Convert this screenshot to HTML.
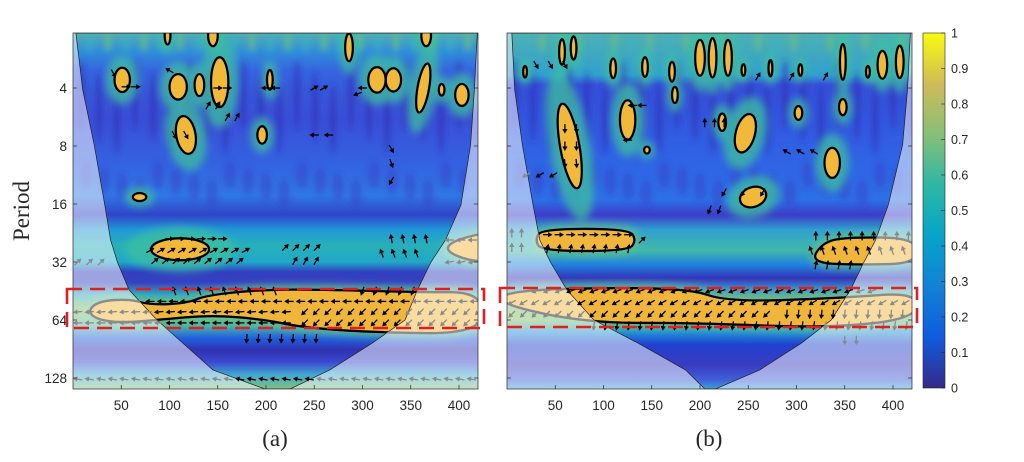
<!DOCTYPE html>
<html><head><meta charset="utf-8"><style>
html,body{margin:0;padding:0;background:#fff;width:1024px;height:462px;overflow:hidden}
svg text{font-family:"Liberation Sans",sans-serif;fill:#262626}
.serif{font-family:"Liberation Serif",serif}
</style></head><body>
<svg id="chart" width="1024" height="462" viewBox="0 0 1024 462" xmlns="http://www.w3.org/2000/svg">
<defs>
<linearGradient id="bgA" gradientUnits="userSpaceOnUse" x1="0" y1="33" x2="0" y2="389">
<stop offset="0" stop-color="#50b0b0"/><stop offset="0.05" stop-color="#3090d8"/><stop offset="0.104" stop-color="#3565e0"/>
<stop offset="0.174" stop-color="#3858d8"/><stop offset="0.244" stop-color="#3a50d8"/><stop offset="0.357" stop-color="#3460e0"/>
<stop offset="0.455" stop-color="#2f78e6"/><stop offset="0.511" stop-color="#3044c8"/><stop offset="0.553" stop-color="#2098d8"/>
<stop offset="0.596" stop-color="#28b0b8"/><stop offset="0.643" stop-color="#20a8c8"/><stop offset="0.671" stop-color="#3040c0"/>
<stop offset="0.7" stop-color="#3640c0"/><stop offset="0.736" stop-color="#30a8c0"/><stop offset="0.778" stop-color="#8cc060"/>
<stop offset="0.82" stop-color="#50b8a0"/><stop offset="0.857" stop-color="#2060e0"/><stop offset="0.89" stop-color="#3032b0"/>
<stop offset="0.924" stop-color="#3a48d0"/><stop offset="0.96" stop-color="#40a8d0"/><stop offset="1" stop-color="#80c080"/>
</linearGradient>
<linearGradient id="bgB" gradientUnits="userSpaceOnUse" x1="0" y1="33" x2="0" y2="389">
<stop offset="0" stop-color="#50b0b0"/><stop offset="0.118" stop-color="#30a0d0"/><stop offset="0.146" stop-color="#3550d8"/>
<stop offset="0.329" stop-color="#3060e4"/><stop offset="0.469" stop-color="#2c70e6"/><stop offset="0.511" stop-color="#3c3cc8"/>
<stop offset="0.553" stop-color="#30a0d0"/><stop offset="0.61" stop-color="#40b8a8"/><stop offset="0.652" stop-color="#2080e0"/>
<stop offset="0.688" stop-color="#3434b8"/><stop offset="0.722" stop-color="#3a9ad0"/><stop offset="0.764" stop-color="#a0c050"/>
<stop offset="0.806" stop-color="#80c060"/><stop offset="0.84" stop-color="#2090d8"/><stop offset="0.876" stop-color="#2040d0"/>
<stop offset="0.933" stop-color="#3a3cc0"/><stop offset="0.975" stop-color="#4060d8"/><stop offset="1" stop-color="#40a0d8"/>
</linearGradient>
<linearGradient id="cbar" x1="0" y1="1" x2="0" y2="0">
<stop offset="0" stop-color="#352A87"/><stop offset="0.143" stop-color="#0F5CDD"/><stop offset="0.286" stop-color="#1481D6"/>
<stop offset="0.429" stop-color="#06A4CA"/><stop offset="0.571" stop-color="#2EB7A4"/><stop offset="0.714" stop-color="#87BF77"/>
<stop offset="0.857" stop-color="#D1BB59"/><stop offset="1" stop-color="#F9FB0E"/>
</linearGradient>
<filter id="blur" x="-50%" y="-50%" width="200%" height="200%"><feGaussianBlur stdDeviation="4"/></filter>
<filter id="blur2" x="-50%" y="-50%" width="200%" height="200%"><feGaussianBlur stdDeviation="3"/></filter>
<clipPath id="plotA"><rect x="73" y="33" width="405" height="356"/></clipPath>
<clipPath id="plotB"><rect x="507" y="33" width="405" height="356"/></clipPath>
<clipPath id="coneA"><path id="coneApath"/></clipPath>
<clipPath id="coneB"><path id="coneBpath"/></clipPath>
</defs>
<g id="panelA"></g>
<g id="panelB"></g>
<rect x="923" y="33" width="22" height="355" fill="url(#cbar)" stroke="#262626" stroke-width="0.6"/>
<g id="cbticks"></g>
<text class="serif" x="29" y="211" font-size="23" text-anchor="middle" transform="rotate(-90 29 211)">Period</text>
<text class="serif" x="275" y="446" font-size="23" text-anchor="middle">(a)</text>
<text class="serif" x="709" y="446" font-size="23" text-anchor="middle">(b)</text>
<rect x="67" y="289" width="417" height="39" fill="none" stroke="#e02020" stroke-width="2.6" stroke-dasharray="15 8"/>
<rect x="500" y="288" width="417" height="39" fill="none" stroke="#e02020" stroke-width="2.6" stroke-dasharray="15 8"/>
</svg>
<script>
const xTicks=[50,100,150,200,250,300,350,400];
const periodTicks=[4,8,16,32,64,128];
const cbTicks=[0,0.1,0.2,0.3,0.4,0.5,0.6,0.7,0.8,0.9,1];
const coneOct=[1.05,2.03,2.98,4.02,4.62,5.0,5.48,6.0,6.4,6.86,7.19];
const coneLeftA=[3,10,22,33,39,46,58,87,114,145,199];
const coneRightA=[419,416,412,402,386,371,357,344,310,266,225];
const coneLeftB=[5,8,16,27,34,45,62,90,136,185,205];
const coneRightB=[418,415,410,395,382,370,356,336,305,262,216];
const blobsA=[[51,1.86,8,0.21,0],[109,1.98,9,0.22,0],[131,1.95,5,0.19,0],[152,1.9,9,0.43,0],[204,1.86,3,0.17,0],
[315,1.86,9,0.22,0],[332,1.86,8,0.2,0],[363,2.0,6,0.43,10],[382,2.03,3,0.1,0],[403,2.12,7,0.19,0],
[117,2.81,10,0.33,-10],[196,2.81,5,0.15,0],[69,3.88,7,0.07,0],[111,4.78,30,0.19,0],
[98,1.1,3,0.15,0],[145,1.1,5,0.18,0],[286,1.3,4,0.24,0],[366,1.1,5,0.18,0]];
const blobsB=[[65,3.0,10,0.74,-10],[125,2.55,8,0.34,0],[145,3.07,3,0.06,0],[174,2.12,3,0.14,0],[223,2.59,4,0.15,0],
[247,2.78,10,0.34,15],[302,2.43,4,0.12,0],[348,2.33,4,0.14,0],[337,3.29,8,0.26,0],[255,3.88,14,0.17,-20],
[18.7,1.72,2,0.1,0],[57,1.38,3,0.22,0],[69,1.31,3,0.2,0],[110,1.66,3,0.17,0],[143,1.64,3,0.17,0],[171,1.72,3,0.17,0],
[200,1.48,5,0.31,0],[213,1.48,4,0.34,0],[229,1.48,4,0.31,0],[245,1.69,2,0.1,0],[273,1.66,2,0.14,0],[304,1.69,2,0.1,0],
[348,1.55,3,0.31,0],[374,1.72,2,0.1,0],[389,1.6,5,0.24,0],[407,1.55,4,0.28,0]];
const bandA=[[15.5,5.83],[28,5.67],[59,5.64],[80,5.74],[118,5.71],[139,5.57],[201,5.47],[269,5.48],[356,5.52],[425,5.52],[425,6.24],[305,6.21],[235,6.12],[201,6.0],[145,5.91],[87,6.0],[49,6.05],[23,5.98]];
const edgeBlobA=[[440,4.45],[395,4.62],[385,4.8],[410,4.98],[440,5.0]];
const bandB=[[-5,5.53],[63,5.45],[188,5.45],[229,5.69],[347,5.62],[425,5.52],[425,5.97],[333,6.14],[195,6.05],[84,6.05],[-5,5.74]];
const capsuleB=[[36,4.43],[126,4.43],[134,4.62],[126,4.81],[36,4.81],[29,4.62]];
const rightBlobB=[[314,5.02],[327,4.66],[353,4.57],[425,4.59],[425,5.02],[371,5.05]];
const arrowsA=[[1.98,55,70,10,0],[1.75,42,42,1,300],[2.0,150,160,10,0],[1.7,100,100,1,150],[2.3,140,150,10,60],
[2.81,250,270,15,180],[2.5,160,170,10,60],[3.05,330,330,1,300],[3.3,330,330,1,290],[3.6,330,330,1,240],[2.1,295,295,1,200],
[2.81,105,125,12,300],[2.0,200,210,10,180],[2.0,250,260,10,30],[2.0,300,300,1,180],
[4.6,100,160,11,0],[4.8,80,180,11,30],[4.98,85,180,11,40],[4.75,220,255,11,45],[4.98,230,255,11,60],
[4.6,330,375,12,100],[4.85,320,360,12,110],[5.0,5,30,12,45],[4.62,390,420,12,180],[5.0,390,420,12,190],
[5.5,105,210,13,110],[5.5,300,360,13,250],[5.68,80,420,12,180],
[5.86,5,230,12,185],[5.86,240,420,12,225],[6.05,5,230,12,180],[6.05,240,420,12,225],
[6.32,180,260,12,265],[7.02,5,420,12,170]];
const arrowsB=[[4.53,42,130,12,0],[4.77,42,130,12,80],[4.5,5,15,10,90],[4.75,5,15,10,90],[4.62,140,140,1,45],
[4.55,320,420,12,90],[4.8,315,420,12,110],[5.05,320,360,12,80],
[2.7,60,75,12,270],[3.0,60,75,12,270],[3.3,60,75,12,275],[3.5,20,50,14,210],
[3.1,290,320,14,150],[3.8,225,270,20,240],[4.1,210,225,10,250],[2.6,205,225,10,90],[2.3,130,140,10,180],
[1.6,30,60,15,300],[1.8,260,330,35,60],[2.9,125,125,1,180],
[5.5,30,380,12,200],[5.7,5,420,12,210],[5.9,5,280,12,225],[5.9,290,420,12,265],[6.1,90,420,12,262],[6.35,350,370,12,270]];

const NS='http://www.w3.org/2000/svg';
const X0=[73,507], SX=0.965;
function X(p,t){return X0[p]+t*SX;}
function Y(o){return 88+(o-2)*58;}
function mk(tag,attrs,parent){const e=document.createElementNS(NS,tag);for(const k in attrs)e.setAttribute(k,attrs[k]);parent.appendChild(e);return e;}
function interp(arr,o){if(o<=coneOct[0])return arr[0];for(let i=1;i<coneOct.length;i++){if(o<=coneOct[i]){const f=(o-coneOct[i-1])/(coneOct[i]-coneOct[i-1]);return arr[i-1]+f*(arr[i]-arr[i-1]);}}return null;}
function conePath(p,L,R){let d='M'+X(p,L[0])+','+33;for(let i=1;i<L.length;i++)d+='L'+X(p,L[i]).toFixed(1)+','+Y(coneOct[i]).toFixed(1);
 for(let i=R.length-1;i>=1;i--)d+='L'+X(p,R[i]).toFixed(1)+','+Y(coneOct[i]).toFixed(1);d+='L'+X(p,R[0])+',33Z';return d;}
function smooth(p,pts){const P=pts.map(q=>[X(p,q[0]),Y(q[1])]);const n=P.length;const mid=(a,b)=>[(a[0]+b[0])/2,(a[1]+b[1])/2];
 let m=mid(P[n-1],P[0]);let d='M'+m[0].toFixed(1)+','+m[1].toFixed(1);
 for(let i=0;i<n;i++){const c=P[i],nm=mid(P[i],P[(i+1)%n]);d+='Q'+c[0].toFixed(1)+','+c[1].toFixed(1)+' '+nm[0].toFixed(1)+','+nm[1].toFixed(1);}return d+'Z';}
function ellipse(p,b,attrs,parent){const cx=X(p,b[0]),cy=Y(b[1]);const a=Object.assign({cx:cx,cy:cy,rx:b[2]*SX,ry:b[3]*58,transform:'rotate('+b[4]+' '+cx+' '+cy+')'},attrs);return mk('ellipse',a,parent);}

function panel(p,g,bg,blobs,regions,arrows,L,R,coneId,plotId){
 const pc=mk('g',{'clip-path':'url(#'+plotId+')'},g);
 const bgr=mk('rect',{x:X0[p],y:33,width:405,height:356,fill:'url(#'+bg+')'},pc);
 
 
 // texture streaks
 const tex=mk('g',{filter:'url(#blur2)'},pc);
 for(let k=0;k<23;k++){const x=X0[p]+8+k*18;
  mk('ellipse',{cx:x,cy:95+(k%3)*12,rx:4,ry:35,fill:'#3030b8',opacity:0.55},tex);
  mk('ellipse',{cx:x+9,cy:42,rx:3,ry:10,fill:(k%2?'#70c080':'#40b0c0'),opacity:0.7},tex);
  mk('ellipse',{cx:x+5,cy:175+(k%4)*6,rx:6,ry:14,fill:'#3434c0',opacity:0.4},tex);}
 const halo=mk('g',{filter:'url(#blur)',opacity:0.75},pc);
 blobs.forEach(b=>{ellipse(p,[b[0],b[1],b[2]*1.8+3,b[3]*1.7+0.06,b[4]],{fill:'#3cc0a0'},halo);});
 regions.forEach(r=>{mk('path',{d:smooth(p,r),fill:'#60c090',stroke:'#60c090','stroke-width':10},halo);});
 const fills=mk('g',{},pc);
 blobs.forEach(b=>{const e=ellipse(p,b,{fill:'#f2b83a'},fills);
  
  });
 regions.forEach(r=>{const e=mk('path',{d:smooth(p,r),fill:'#f0b63c'},fills);
  
  });
 const cp=conePath(p,L,R);
 document.getElementById(coneId+'path').setAttribute('d',cp);
 const ov=mk('path',{d:'M'+X0[p]+',33h405v356h-405Z '+cp,'fill-rule':'evenodd',fill:'#ffffff','fill-opacity':0.52},pc);
 
 
 mk('path',{d:cp,fill:'none',stroke:'#202020','stroke-width':0.7},pc);
 const grey=mk('g',{fill:'none',stroke:'#8c8c8c','stroke-width':2.4},pc);
 const blk=mk('g',{fill:'none',stroke:'#000','stroke-width':2.2,'clip-path':'url(#'+coneId+')'},pc);
 [grey,blk].forEach(gg=>{blobs.forEach(b=>ellipse(p,b,{},gg));regions.forEach(r=>mk('path',{d:smooth(p,r)},gg));});
 const ar=mk('g',{},pc);
 arrows.forEach(s=>{for(let t=s[1];t<=s[2]+0.01;t+=s[3]){
   const l=interp(L,s[0]),r=interp(R,s[0]);const inside=l!==null&&t>=l&&t<=r;
   const col=inside?'#000':'#8a8a8a';const x=X(p,t),y=Y(s[0]);
   const a=mk('g',{transform:'translate('+x.toFixed(1)+','+y.toFixed(1)+') rotate('+(-s[4])+')'},ar);
   
   
   mk('line',{x1:-4.5,y1:0,x2:2,y2:0,stroke:col,'stroke-width':1.3},a);
   mk('polygon',{points:'5,0 0.5,-2.6 0.5,2.6',fill:col},a);}});
 const fr=mk('rect',{x:X0[p],y:33,width:405,height:356,fill:'none',stroke:'#262626','stroke-width':0.7},g);
 
 
 xTicks.forEach(v=>{const x=X(p,v);mk('line',{x1:x,y1:389,x2:x,y2:385,stroke:'#262626','stroke-width':0.7},g);
  const t=mk('text',{x:x,y:410,'font-size':13.5,'text-anchor':'middle'},g);t.textContent=v;
  
  });
 periodTicks.forEach(v=>{const y=Y(Math.log2(v));mk('line',{x1:X0[p],y1:y,x2:X0[p]+4,y2:y,stroke:'#262626','stroke-width':0.7},g);
  mk('line',{x1:X0[p]+405,y1:y,x2:X0[p]+401,y2:y,stroke:'#262626','stroke-width':0.7},g);
  if(p===0){const t=mk('text',{x:X0[p]-6,y:y+5,'font-size':13.5,'text-anchor':'end'},g);t.textContent=v;
   
   }});
}
panel(0,document.getElementById('panelA'),'bgA',blobsA,[bandA,edgeBlobA],arrowsA,coneLeftA,coneRightA,'coneA','plotA');
panel(1,document.getElementById('panelB'),'bgB',blobsB,[bandB,capsuleB,rightBlobB],arrowsB,coneLeftB,coneRightB,'coneB','plotB');
const cb=document.getElementById('cbticks');
cbTicks.forEach(v=>{const y=388-v*355;
 mk('line',{x1:945,y1:y,x2:941,y2:y,stroke:'#262626','stroke-width':0.6},cb);
 const t=mk('text',{x:951,y:y+4.5,'font-size':12.5},cb);t.textContent=String(v);
 
 });
</script>
</body></html>
